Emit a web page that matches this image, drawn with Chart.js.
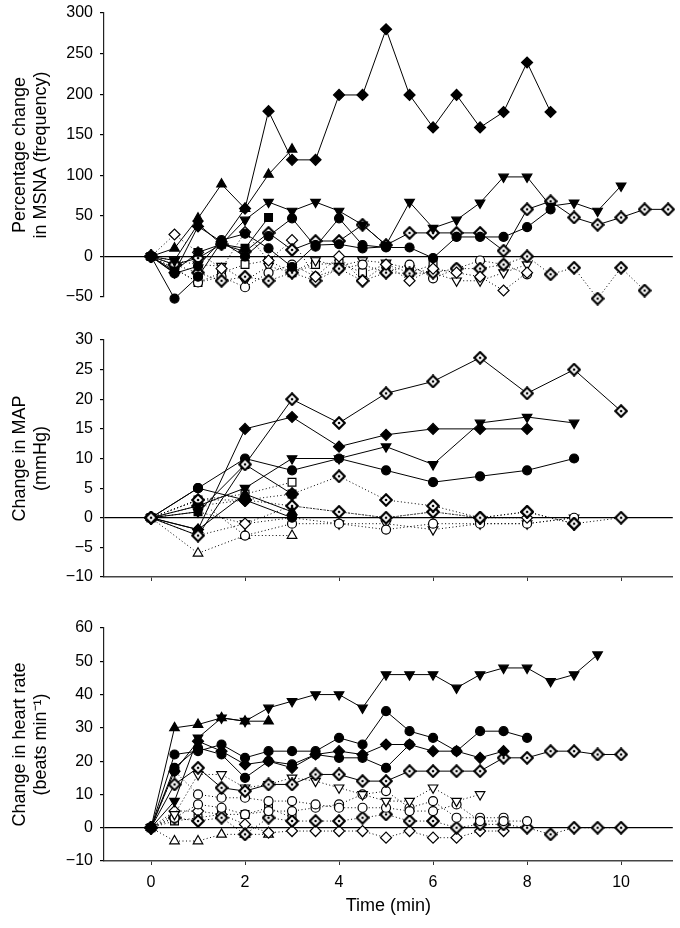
<!DOCTYPE html>
<html>
<head>
<meta charset="utf-8">
<script src="https://cdn.jsdelivr.net/npm/chart.js@4.4.0/dist/chart.umd.min.js"></script>
<style>
html,body{margin:0;padding:0;background:#fff;}
#wrap{position:relative;width:680px;height:928px;overflow:hidden;}
.panel{position:absolute;left:0;width:680px;}
</style>
</head>
<body>
<div id="wrap">
  <div class="panel" style="top:0;height:315px"><canvas id="msna"></canvas></div>
  <div class="panel" style="top:330px;height:255px"><canvas id="map"></canvas></div>
  <div class="panel" style="top:610px;height:318px"><canvas id="hr"></canvas></div>
</div>
<script>
// time points (min)
const timesHalf = [0,0.5,1,1.5,2,2.5,3,3.5,4,4.5,5,5.5,6,6.5,7,7.5,8,8.5,9,9.5,10,10.5,11];
const timesWhole = [0,1,2,3,4,5,6,7,8,9,10];
const xTicks = [0,2,4,6,8,10];

// MSNA (% change in frequency)
const msnaTicks = [-50,0,50,100,150,200,250,300];
const msnaFilledDiamond = [0,-20,37,18,59,179,119,119,199,199,280,199,159,199,159,178,239,178];
const msnaFilledUp = [0,10,47,89,59,101,132];
const msnaFilledDown = [0,-5,40,15,45,67,56,67,56,39,14,67,35,45,66,98,98,62,66,56,87];
const msnaFilledSquare = [0,-18,5,15,10,48];
const msnaFilledCircleA = [0,-52,-25,18,0,25,47,12,47,14,11,11,-2,24,24,24,36,58];
const msnaFilledCircleB = [0,-21,-12,20,28,10,-13,14,15,10,12];
const msnaDotDiamond = [0,-10,-2,15,6,29,8,19,19,39,14,29,29,29,29,7,58,68,48,39,48,58,58];
const msnaOpenDiamond = [0,27,5,-15,30,-5,20,-25,0,-30,-10,-30,-15,-20,-25,-42,-20];
const msnaOpenDotDiamond = [0,-10,-20,-30,-25,-30,-20,-30,-15,-30,-20,-21,-20,-15,-15,-10,0,-22,-14,-52,-14,-42];
const msnaOpenCircle = [0,-15,-32,-25,-38,-20,-10,-25,-15,-10,-20,-10,-27,-15,-5,-10,-22];
const msnaOpenDown = [0,-5,-10,-12,-30,-12,-20,-5,-12,-5,-8,-15,-20,-30,-30,-20,-10];
const msnaOpenSquare = [0,-15,-32,-20,-10,-5,-20,-10,-8,-20,-10,-20,-10];

// MAP (mmHg)
const mapTicks = [-10,-5,0,5,10,15,20,25,30];
const mapDotDiamond = [0,-3,9,20,16,21,23,27,21,25,18];
const mapFilledDiamond = [0,-2,15,17,12,14,15,15,15];
const mapFilledDown = [0,2,5,10,10,12,9,16,17,16];
const mapFilledCircleA = [0,5,10,8,10,8,6,7,8,10];
const mapFilledCircleB = [0,5,3,0];
const mapFilledSquare = [0,1,9,4];
const mapFilledUp = [0,-2,4,1];
const mapOpenDotDiamond = [0,3,3,4,7,3,2,0,1,-1];
const mapOpenDotDiamondB = [0,2,3,2,1,0,1,0,1,-1,0];
const mapOpenDiamond = [0,-3,-1,2,1,0,1,0,0];
const mapOpenCircle = [0,3,-3,-1,-1,-2,-1,-1,-1,0];
const mapOpenUp = [0,-6,-3,-3];
const mapOpenSquare = [0,3,4,6];
const mapOpenDown = [0,1,-1,0,-1,-1,-2,-1,-1,0];

// heart rate (beats/min)
const hrTicks = [-10,0,10,20,30,40,50,60];
const hrFilledDown = [0,8,27,33,32,36,38,40,40,36,46,46,46,42,46,48,48,44,46,52];
const hrFilledUp = [0,30,31,33,32,32];
const hrFilledCircleA = [0,22,23,25,21,23,23,23,27,25,35,29,27,23,29,29,27];
const hrFilledCircleB = [0,18,24,22,15,20,19,22,21,21,18,25];
const hrFilledDiamond = [0,17,26,23,19,20,18,22,23,22,25,25,23,23,21,23];
const hrDotDiamond = [0,13,18,12,11,13,13,16,16,14,14,17,17,17,17,21,21,23,23,22,22];
const hrOpenDown = [0,4,16,16,12,13,15,14,12,10,8,8,12,8,10];
const hrOpenCircleA = [0,17,10,9,9,8,8,7,6,6,6,5,5,7,2,2,2];
const hrOpenCircleB = [0,3,7,6,4,5,5,6,7,10,11,6,8,3,3,3];
const hrOpenDotDiamond = [0,3,2,3,-2,3,2,2,2,3,4,2,2,0,1,1,0,-2,0,0,0];
const hrOpenDiamond = [0,5,5,4,1,-1.5,-1,-1,-1,-1,-3,-1,-3,-3,-1,-1];
const hrOpenUp = [0,-4,-4,-2,-2,-2];
const hrOpenSquare = [0,2,3,4,4,6,3];

const FONT = '"Liberation Sans", Arial, Helvetica, sans-serif';

// open diamond with a centre dot, drawn once and used as point image
function dotDiamond(){
  const c = document.createElement('canvas');
  c.width = 14; c.height = 14;
  const g = c.getContext('2d');
  g.beginPath();
  g.moveTo(7,1.3); g.lineTo(12.7,7); g.lineTo(7,12.7); g.lineTo(1.3,7); g.closePath();
  g.fillStyle = '#fff'; g.fill();
  g.lineWidth = 2.2; g.strokeStyle = '#000'; g.stroke();
  g.beginPath(); g.arc(7,7,1.3,0,Math.PI*2); g.fillStyle = '#000'; g.fill();
  return c;
}
const DOTD = dotDiamond();

const SYM = {
  fDiamond: {pointStyle:'rectRot', r:5.5, fill:'#000'},
  oDiamond: {pointStyle:'rectRot', r:5.5, fill:'#fff'},
  fCircle:  {pointStyle:'circle', r:4.5, fill:'#000'},
  oCircle:  {pointStyle:'circle', r:4.5, fill:'#fff'},
  fUp:      {pointStyle:'triangle', r:5.5, fill:'#000'},
  oUp:      {pointStyle:'triangle', r:5.5, fill:'#fff'},
  fDown:    {pointStyle:'triangle', r:5.5, fill:'#000', rot:180},
  oDown:    {pointStyle:'triangle', r:5.5, fill:'#fff', rot:180},
  fSquare:  {pointStyle:'rect', r:5.5, fill:'#000'},
  oSquare:  {pointStyle:'rect', r:5.5, fill:'#fff'},
  dDiamond: {pointStyle:DOTD, r:6, fill:'#fff'}
};

function series(times, values, sym, dotted){
  const s = SYM[sym];
  return {
    data: values.map((v,i)=>({x:times[i], y:v})),
    borderColor:'#000',
    borderWidth: 1,
    borderDash: dotted ? [1,2.5] : [],
    pointStyle: s.pointStyle,
    pointRadius: s.r,
    pointRotation: s.rot || 0,
    pointBackgroundColor: s.fill,
    pointBorderColor:'#000',
    pointBorderWidth: 1.2,
    tension: 0,
    clip: false
  };
}

function minus(v){ return String(v).replace('-', '\u2212'); }

function makePanel(id, datasets, yMin, yMax, yTicks, title, pad, xMode){
  const x = {
    type:'linear', min:-1, max:11.1,
    afterBuildTicks: s => { s.ticks = xTicks.map(v=>({value:v})); },
    grid:{drawOnChartArea:false, tickLength:4, tickColor:'#333', display: xMode !== 'none'},
    border:{display: xMode !== 'none', color:'#444', width:1.5},
    ticks:{display: xMode === 'full', color:'#000', font:{family:FONT, size:16}, padding:8, maxRotation:0},
    title:{display: xMode === 'full', text:'Time (min)', color:'#000', font:{family:FONT, size:18}, padding:{top:0, bottom:11}},
    display: xMode !== 'none',
    afterFit: s => { s.height = xMode === 'full' ? 67 : 8; s.paddingLeft = 0; s.paddingRight = 0; }
  };
  const y = {
    type:'linear', min:yMin, max:yMax,
    afterBuildTicks: s => { s.ticks = yTicks.map(v=>({value:v})); },
    afterFit: s => { s.width = 104; s.paddingTop = 0; s.paddingBottom = 0; },
    grid:{
      color: c => (c.tick && c.tick.value === 0) ? '#000' : 'rgba(0,0,0,0)',
      lineWidth: 1.2, tickColor:'#000', tickLength:4
    },
    border:{color:'#222', width:1.2},
    ticks:{color:'#000', font:{family:FONT, size:16}, padding:7, callback: v => minus(v)},
    title:{display:true, text:title, color:'#000', font:{family:FONT, size:18, lineHeight:1.2}, padding:{top:9}}
  };
  return new Chart(document.getElementById(id), {
    type:'line',
    data:{datasets},
    options:{
      responsive:true, maintainAspectRatio:false, animation:false, events:[],
      layout:{padding:pad},
      plugins:{legend:{display:false}, tooltip:{enabled:false}},
      scales:{x, y}
    }
  });
}

makePanel('msna', [
  series(timesHalf, msnaFilledDiamond, 'fDiamond'),
  series(timesHalf, msnaFilledUp, 'fUp'),
  series(timesHalf, msnaFilledDown, 'fDown'),
  series(timesHalf, msnaFilledSquare, 'fSquare'),
  series(timesHalf, msnaFilledCircleA, 'fCircle'),
  series(timesHalf, msnaFilledCircleB, 'fCircle'),
  series(timesHalf, msnaDotDiamond, 'dDiamond'),
  series(timesHalf, msnaOpenDiamond, 'oDiamond', true),
  series(timesHalf, msnaOpenDotDiamond, 'dDiamond', true),
  series(timesHalf, msnaOpenCircle, 'oCircle', true),
  series(timesHalf, msnaOpenDown, 'oDown', true),
  series(timesHalf, msnaOpenSquare, 'oSquare', true)
], -50, 300, msnaTicks, ['Percentage change','in MSNA (frequency)'], {top:13, bottom:10, right:3}, 'none');

makePanel('map', [
  series(timesWhole, mapDotDiamond, 'dDiamond'),
  series(timesWhole, mapFilledDiamond, 'fDiamond'),
  series(timesWhole, mapFilledDown, 'fDown'),
  series(timesWhole, mapFilledCircleA, 'fCircle'),
  series(timesWhole, mapFilledCircleB, 'fCircle'),
  series(timesWhole, mapFilledSquare, 'fSquare'),
  series(timesWhole, mapFilledUp, 'fUp'),
  series(timesWhole, mapOpenDotDiamond, 'dDiamond', true),
  series(timesWhole, mapOpenDotDiamondB, 'dDiamond', true),
  series(timesWhole, mapOpenDiamond, 'oDiamond', true),
  series(timesWhole, mapOpenCircle, 'oCircle', true),
  series(timesWhole, mapOpenUp, 'oUp', true),
  series(timesWhole, mapOpenSquare, 'oSquare', true),
  series(timesWhole, mapOpenDown, 'oDown', true)
], -10, 30, mapTicks, ['Change in MAP','(mmHg)'], {top:10, bottom:0, right:3}, 'axis');

makePanel('hr', [
  series(timesHalf, hrFilledDown, 'fDown'),
  series(timesHalf, hrFilledUp, 'fUp'),
  series(timesHalf, hrFilledCircleA, 'fCircle'),
  series(timesHalf, hrFilledCircleB, 'fCircle'),
  series(timesHalf, hrFilledDiamond, 'fDiamond'),
  series(timesHalf, hrDotDiamond, 'dDiamond'),
  series(timesHalf, hrOpenDown, 'oDown', true),
  series(timesHalf, hrOpenCircleA, 'oCircle', true),
  series(timesHalf, hrOpenCircleB, 'oCircle', true),
  series(timesHalf, hrOpenDotDiamond, 'dDiamond', true),
  series(timesHalf, hrOpenDiamond, 'oDiamond', true),
  series(timesHalf, hrOpenUp, 'oUp', true),
  series(timesHalf, hrOpenSquare, 'oSquare', true)
], -10, 60, hrTicks, ['Change in heart rate','(beats min\u207B\u00B9)'], {top:18, bottom:0, right:3}, 'full');
</script>
</body>
</html>
